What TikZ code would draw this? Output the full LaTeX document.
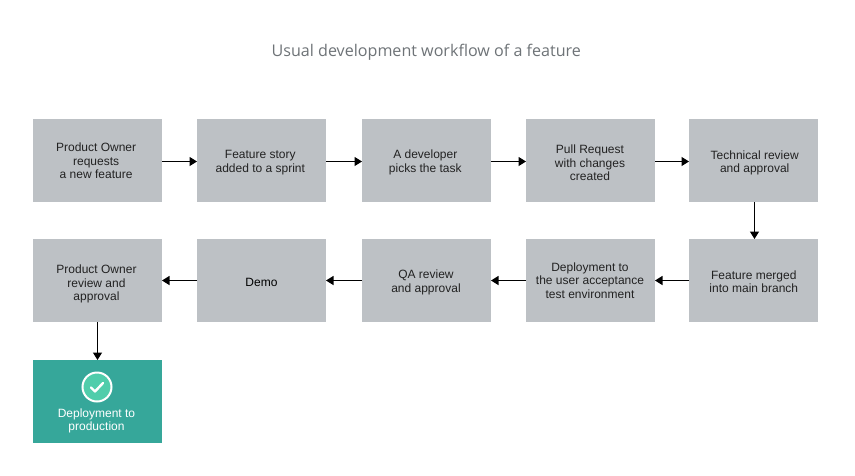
\documentclass[tikz,border=0pt]{standalone}
\usepackage{fontspec}
\setmainfont{Liberation Sans}
\newfontfamily\titlefont{Open Sans}
\usetikzlibrary{arrows.meta}
\definecolor{boxgrey}{HTML}{BDC1C5}
\definecolor{tealbox}{HTML}{36A79A}
\definecolor{tealdisc}{HTML}{50CDAB}
\definecolor{titlegrey}{HTML}{6E7377}
\definecolor{inktext}{HTML}{222222}
\tikzset{
  x=1pt,y=-1pt,
  flowbox/.style={fill=boxgrey,minimum width=129pt,minimum height=83pt,inner sep=0pt,outer sep=0pt},
  donebox/.style={flowbox,fill=tealbox},
  boxtext/.style={align=center,text=inktext,inner sep=0pt,font=\fontsize{12}{13.5}\selectfont},
  flowarrow/.style={draw=black,line width=1.2pt,-{Triangle[length=7.5pt,width=9pt]}},
}
\begin{document}
\begin{tikzpicture}
\useasboundingbox (0,0) rectangle (855,475);
\fill[white] (0,0) rectangle (855,475);
\node[text=titlegrey,font=\titlefont\fontsize{16.1}{20}\selectfont] (title) at (426.3,52.5) {Usual development workflow of a feature};
\node[flowbox,label={[boxtext,yshift=-0.7pt,xshift=-1.4pt]center:Product Owner\\requests\\a new feature}] (a1) at (97.5,160.5) {};
\node[flowbox,label={[boxtext,yshift=-2.2pt,xshift=-1.2pt]center:Feature story\\added to a sprint}] (a2) at (261.5,160.5) {};
\node[flowbox,label={[boxtext,yshift=-2pt,xshift=-1.2pt]center:A developer\\picks the task}] (a3) at (426.5,160.5) {};
\node[flowbox,label={[boxtext,yshift=-2.5pt,xshift=-0.5pt]center:Pull Request\\with changes\\created}] (a4) at (590.5,160.5) {};
\node[flowbox,label={[boxtext,yshift=-2.5pt,xshift=1.2pt]center:Technical review\\and approval}] (a5) at (753.5,160.5) {};
\node[flowbox,label={[boxtext,yshift=-1.2pt,xshift=0.3pt]center:Feature merged\\into main branch}] (b5) at (753.5,280.5) {};
\node[flowbox,label={[boxtext,yshift=0pt,xshift=-0.5pt]center:Deployment to\\the user acceptance\\test environment}] (b4) at (590.5,280.5) {};
\node[flowbox,label={[boxtext,yshift=-2pt,xshift=-0.5pt]center:QA review\\and approval}] (b3) at (426.5,280.5) {};
\node[flowbox,label={[boxtext,yshift=-2pt,text=black]center:Demo}] (b2) at (261.5,280.5) {};
\node[flowbox,label={[boxtext,yshift=-3.5pt,xshift=-1pt]center:Product Owner\\review and\\approval}] (b1) at (97.5,280.5) {};
\node[donebox] (c1) at (97.5,401.5) {};
\node[boxtext,text=white] (c1text) at (96.5,421) {Deployment to\\production};
\node[circle,fill=tealdisc,draw=white,line width=2pt,minimum size=29pt,inner sep=0pt] (tick) at (97,387) {};
\draw[white,line width=2.4pt,line cap=round,line join=round] (91,387.5) -- (95,391.5) -- (103,383);
\draw[flowarrow] ([yshift=-1pt]a1.east) -- ([yshift=-1pt]a2.west);
\draw[flowarrow] ([yshift=-1pt]a2.east) -- ([yshift=-1pt]a3.west);
\draw[flowarrow] ([yshift=-1pt]a3.east) -- ([yshift=-1pt]a4.west);
\draw[flowarrow] ([yshift=-1pt]a4.east) -- ([yshift=-1pt]a5.west);
\draw[flowarrow] ([xshift=1pt]a5.south) -- ([xshift=1pt]b5.north);
\draw[flowarrow] (b5) -- (b4);
\draw[flowarrow] (b4) -- (b3);
\draw[flowarrow] (b3) -- (b2);
\draw[flowarrow] (b2) -- (b1);
\draw[flowarrow] (b1) -- (c1);
\end{tikzpicture}
\end{document}
